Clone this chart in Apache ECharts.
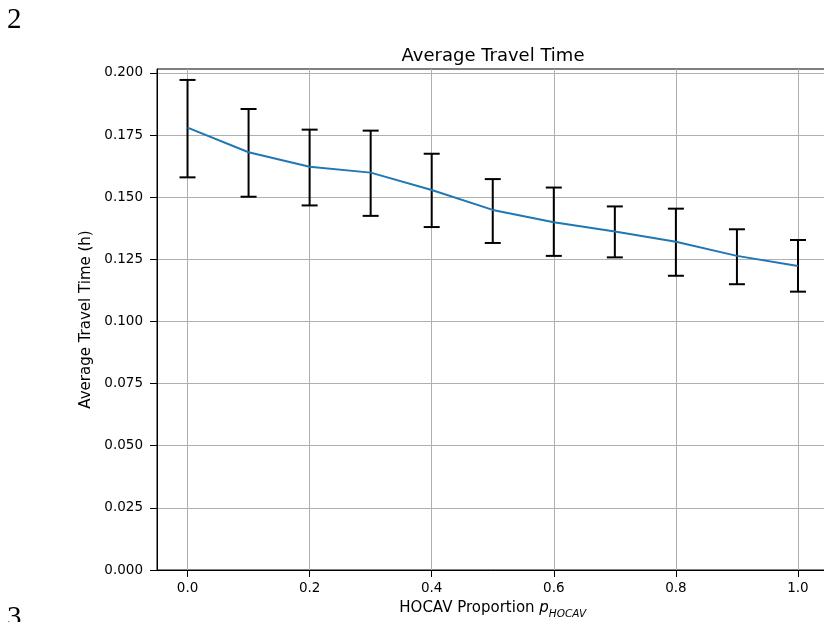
<html><head><meta charset='utf-8'>
<script src='https://cdn.jsdelivr.net/npm/echarts@6/dist/echarts.min.js'></script>
<style>body{margin:0;background:#fff}#chart{width:824px;height:622px}</style>
</head><body>
<div id='chart'></div>
<script>
// proportion of HOCAV vehicles
var proportions = [0.0, 0.1, 0.2, 0.3, 0.4, 0.5, 0.6, 0.7, 0.8, 0.9, 1.0];
// mean travel time (h)
var meanTime = [0.1780, 0.1681, 0.1623, 0.1599, 0.1529, 0.1449, 0.1399, 0.1362, 0.1321, 0.1264, 0.1223];
// error bar ends
var lowTime  = [0.1580, 0.1502, 0.1467, 0.1425, 0.1380, 0.1316, 0.1264, 0.1258, 0.1184, 0.1150, 0.1120];
var highTime = [0.1972, 0.1855, 0.1772, 0.1768, 0.1675, 0.1573, 0.1539, 0.1463, 0.1454, 0.1371, 0.1328];
var xTicks = [0.0, 0.2, 0.4, 0.6, 0.8, 1.0];
var yTicks = [0.000, 0.025, 0.050, 0.075, 0.100, 0.125, 0.150, 0.175, 0.200];

var font = 'DejaVu Sans';
var lineData = proportions.map(function (p, i) { return [p, meanTime[i]]; });
var barData = proportions.map(function (p, i) { return [p, lowTime[i], highTime[i]]; });

function errorBar(params, api) {
    var x = api.value(0);
    var lo = api.coord([x, api.value(1)]);
    var hi = api.coord([x, api.value(2)]);
    var hw = 8;
    var st = { stroke: '#000', lineWidth: 2 };
    return {
        type: 'group',
        children: [
            { type: 'line', shape: { x1: lo[0], y1: lo[1], x2: hi[0], y2: hi[1] }, style: st },
            { type: 'line', shape: { x1: hi[0] - hw, y1: hi[1], x2: hi[0] + hw, y2: hi[1] }, style: st },
            { type: 'line', shape: { x1: lo[0] - hw, y1: lo[1], x2: lo[0] + hw, y2: lo[1] }, style: st }
        ]
    };
}

var chart = echarts.init(document.getElementById('chart'));
chart.setOption({
    animation: false,
    title: {
        text: 'Average Travel Time',
        left: 488, top: 42, textAlign: 'center',
        textStyle: { fontFamily: font, fontSize: 18, fontWeight: 'normal', color: '#000' }
    },
    grid: {
        left: 157, top: 69, right: -4.5, bottom: 52,
        show: true, borderColor: '#000', borderWidth: 1,
        outerBoundsMode: 'none'
    },
    xAxis: {
        type: 'value', min: -0.05, max: 1.05,
        name: '{a|HOCAV Proportion }{i|p}{s|HOCAV}',
        nameLocation: 'middle', nameGap: 31,
        nameTextStyle: {
            rich: {
                a: { fontFamily: font, fontSize: 15, color: '#000', lineHeight: 19, verticalAlign: 'top' },
                i: { fontFamily: font, fontSize: 15, fontStyle: 'italic', color: '#000', lineHeight: 19, verticalAlign: 'top' },
                s: { fontFamily: font, fontSize: 10.5, fontStyle: 'italic', color: '#000', lineHeight: 13, verticalAlign: 'bottom' }
            }
        },
        axisLine: { show: true, onZero: false, lineStyle: { color: '#000', width: 1 } },
        axisTick: { show: true, length: 7, customValues: xTicks, lineStyle: { color: '#000' } },
        axisLabel: {
            customValues: xTicks, margin: 11,
            fontFamily: font, fontSize: 13.5, color: '#000',
            formatter: function (v) { return v.toFixed(1); }
        },
        splitLine: { show: true, lineStyle: { color: '#b0b0b0', width: 1 } }
    },
    yAxis: {
        type: 'value', min: 0, max: 0.2016,
        name: 'Average Travel Time (h)',
        nameLocation: 'middle', nameGap: 62, nameRotate: 90,
        nameTextStyle: { fontFamily: font, fontSize: 15, color: '#000' },
        axisLine: { show: true, onZero: false, lineStyle: { color: '#000', width: 1 } },
        axisTick: { show: true, length: 7, customValues: yTicks, lineStyle: { color: '#000' } },
        axisLabel: {
            customValues: yTicks, margin: 14,
            fontFamily: font, fontSize: 13.5, color: '#000',
            formatter: function (v) { return v.toFixed(3); }
        },
        splitLine: { show: true, lineStyle: { color: '#b0b0b0', width: 1 } }
    },
    graphic: [
        { type: 'text', left: 7, top: 6, style: { text: '2', fontFamily: 'Liberation Serif', fontSize: 29, fill: '#000' } },
        { type: 'text', left: 7, top: 604, style: { text: '3', fontFamily: 'Liberation Serif', fontSize: 29, fill: '#000' } }
    ],
    series: [
        {
            type: 'custom', renderItem: errorBar, data: barData, z: 2,
            encode: { x: 0, y: [1, 2] }
        },
        {
            type: 'line', data: lineData, showSymbol: false, z: 3,
            lineStyle: { color: '#1f77b4', width: 2 }
        }
    ]
});
</script>
</body></html>
